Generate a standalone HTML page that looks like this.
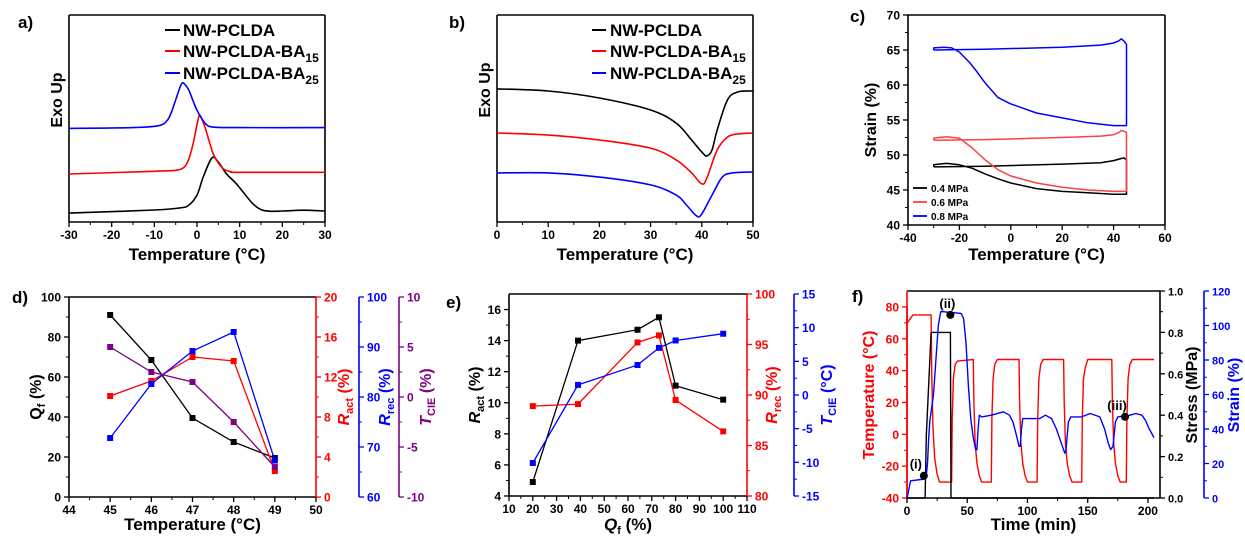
<!DOCTYPE html>
<html><head><meta charset="utf-8">
<style>
html,body{margin:0;padding:0;background:#fff;}
svg{display:block;font-family:"Liberation Sans",Arial,sans-serif;font-weight:bold;}
</style></head>
<body>
<svg id="fig" width="1245" height="536" viewBox="0 0 1245 536" xmlns="http://www.w3.org/2000/svg"></svg>
<script>
// ---------- DATA ----------
// Panel a (DSC cooling), arbitrary heat-flow units 0..100
const aX_black=[-30,-10,-4,-2,0,1.5,3.5,5,7,9,11,13,15,17,20,25,30];
const aY_black=[4.3,5.8,6.8,8,13,22,30.9,29,23,19,14,9,6,5.2,5.3,5.7,5.3];
const aX_red=[-30,-10,-5,-3,-2,-1,0,0.5,1,2,3,4,6,8,10,30];
const aY_red=[23.2,24.5,25,26.5,30,37,47,51.2,50.5,45,38,32,26,24.3,24,24];
const aX_blue=[-30,-15,-9,-7,-6,-5,-4,-3.5,-3,-2,-1,0,2,4,10,30];
const aY_blue=[45.2,45.6,46.5,49,53,59,65,67.1,66.8,64,59,54,47.5,45.8,45.6,45.6];
const aTicks=[-30,-20,-10,0,10,20,30];
// Panel b (DSC heating)
const bX_black=[0,10,20,30,35,38,40,41,42,43,45,47,50];
const bY_black=[64.3,63.3,59.9,54.1,47.8,39.6,33.8,31.9,34.8,44.4,58.9,62.8,63.3];
const bX_red=[0,10,20,30,35,38,40,41,43,45,47,50];
const bY_red=[43,42,39.6,35.7,30,23.7,18.4,21.3,34.8,41,42.5,43];
const bX_blue=[0,10,20,30,35,37,39,40,42,44,46,50];
const bY_blue=[23.7,23.7,21.7,17.9,13,8.2,2.9,3.9,13,21.7,23.7,24.2];
const bTicks=[0,10,20,30,40,50];
// Panel c (strain loops)
const cX_04=[-30,-10,20,35,40,43,44,45,45,40,30,20,10,0,-5,-10,-15,-20,-25,-28,-30,-30];
const cY_04=[48.3,48.4,48.7,48.9,49.2,49.5,49.6,49.3,44.4,44.4,44.6,44.8,45.2,46,46.6,47.3,48.1,48.6,48.8,48.7,48.6,48.3];
const cX_06=[-30,-10,20,35,40,42,43,44,45,45,40,30,20,10,0,-5,-10,-15,-20,-25,-28,-30,-30];
const cY_06=[52.1,52.2,52.5,52.7,52.9,53.2,53.5,53.4,53.2,44.8,44.8,45,45.4,46,47,47.9,49.3,51,52.4,52.6,52.5,52.4,52.1];
const cX_08=[-30,-10,20,35,40,42,43,44,45,45,40,30,20,10,0,-5,-10,-13,-16,-20,-23,-26,-30,-30];
const cY_08=[65,65.1,65.4,65.7,66,66.3,66.6,66.3,65.8,54.2,54.2,54.6,55.3,56,57.3,58.2,60.3,61.8,63.2,64.7,65.3,65.4,65.3,65];
const cXT=[-40,-20,0,20,40,60], cYT=[40,45,50,55,60,65,70];
// Panel d
const dTemp=[45,46,47,48,49];
const dQf=[91,68.5,39.5,27.5,19.5];
const dRact=[10.1,11.6,14,13.6,2.6];
const dRrec=[71.8,82.6,89.2,93,67.3];
const dTcie=[5,2.5,1.5,-2.5,-7];
// Panel e
const eQf=[20,39,64,73,80,100];
const eRact=[4.9,14,14.7,15.5,11.1,10.2];
const eRrec=[88.9,89.1,95.2,95.9,89.5,86.4];
const eTcie=[-10.1,1.5,4.45,7,8.1,9.1];
// Panel f
const fT_time=[0.5,2,5,20,20.5,21.5,23,25,27,37,37.5,38.5,40,42,55,55.5,56.5,58,60,62,70,70.5,71.5,73,75,93,93.5,94.5,96,98,100,108,108.5,109.5,111,113,130,130.5,131.5,133,135,137,145,145.5,146.5,148,150,170,170.5,171.5,173,175,177,182,182.5,183.5,185,187,205];
const fT_temp=[70,72,75,75,40,5,-15,-25,-30,-30,10,35,44,46,47,20,-5,-18,-26,-30,-30,10,35,44,47,47,20,-5,-18,-26,-30,-30,10,35,44,47,47,20,-5,-18,-26,-30,-30,10,35,42,47,47,20,-5,-18,-26,-30,-30,10,35,44,47,47];
const fS_time=[0,15,16,20,36,36.5,205];
const fS_stress=[0,0,0.3,0.8,0.8,0,0];
const fE_time=[0,1,3,15,16,17,18,19,20,21,22,24,26,28,30,45,47,49,51,53,55,57,58,59,60,62,70,80,85,88,91,93,94,95,96,110,115,120,124,128,131,132,134,136,145,152,160,164,167,169,171,173,175,185,190,195,198,201,205];
const fE_strain=[0,3,10,11,13,20,35,45,50,55,60,80,100,108,108,107,104,90,65,45,35,28,28,40,48,47,48,50,48,44,36,30,30,40,46,46,48,46,40,32,26,28,44,47,47,49,47,40,32,28,30,44,47,48,49,48,45,40,35];
const fMarkT=[14,36,181], fMarkV=[-26,75,11], fMarkL=["(i)","(ii)","(iii)"];

// ---------- HELPERS ----------
const NS="http://www.w3.org/2000/svg";
const svg=document.getElementById('fig');
function el(tag,attrs,parent,text){const e=document.createElementNS(NS,tag);for(const k in attrs)e.setAttribute(k,attrs[k]);if(text!==undefined)e.textContent=text;(parent||svg).appendChild(e);return e;}
function lin(d0,d1,p0,p1){return v=>p0+(v-d0)/(d1-d0)*(p1-p0);}
function smoothPath(xs,ys,sx,sy){
  const P=xs.map((x,i)=>[sx(x),sy(ys[i])]);
  let d='M'+P[0][0].toFixed(1)+','+P[0][1].toFixed(1);
  for(let i=0;i<P.length-1;i++){const p0=P[Math.max(0,i-1)],p1=P[i],p2=P[i+1],p3=P[Math.min(P.length-1,i+2)];
    const c1=[p1[0]+(p2[0]-p0[0])/6,p1[1]+(p2[1]-p0[1])/6],c2=[p2[0]-(p3[0]-p1[0])/6,p2[1]-(p3[1]-p1[1])/6];
    d+=`C${c1[0].toFixed(1)},${c1[1].toFixed(1)} ${c2[0].toFixed(1)},${c2[1].toFixed(1)} ${p2[0].toFixed(1)},${p2[1].toFixed(1)}`;}
  return d;}
function polyPath(xs,ys,sx,sy){return xs.map((x,i)=>(i?'L':'M')+sx(x).toFixed(1)+','+sy(ys[i]).toFixed(1)).join('');}
function xAxis(g,sx,y,ticks,minor,fs){
  ticks.forEach(t=>{el('line',{x1:sx(t),x2:sx(t),y1:y,y2:y+5,stroke:'#000','stroke-width':1.3},g);
    el('text',{x:sx(t),y:y+17,'text-anchor':'middle','font-size':fs||12},g,String(t));});
  if(minor) minor.forEach(t=>el('line',{x1:sx(t),x2:sx(t),y1:y,y2:y+3,stroke:'#000','stroke-width':1},g));
}
function yAxis(g,sy,x,ticks,minor,col,side,fs,fmt){
  const s=side==='left'?-1:1;
  el('line',{x1:x,x2:x,y1:sy(ticks[0]),y2:sy(ticks[ticks.length-1]),stroke:col,'stroke-width':1.6},g);
  ticks.forEach(t=>{el('line',{x1:x,x2:x+5*s,y1:sy(t),y2:sy(t),stroke:col,'stroke-width':1.3},g);
    el('text',{x:x+8*s,y:sy(t)+4.5,'text-anchor':side==='left'?'end':'start','font-size':fs||12,fill:col},g,fmt?fmt(t):String(t));});
  if(minor) minor.forEach(t=>el('line',{x1:x,x2:x+3*s,y1:sy(t),y2:sy(t),stroke:col,'stroke-width':1},g));
}
function mids(a){const r=[];for(let i=0;i<a.length-1;i++)r.push((a[i]+a[i+1])/2);return r;}
function frame(g,x0,x1,y0,y1,top){
  el('line',{x1:x0,x2:x1,y1:y1,y2:y1,stroke:'#000','stroke-width':1.6},g);
  if(top!==false) el('line',{x1:x0,x2:x1,y1:y0,y2:y0,stroke:'#000','stroke-width':1.6},g);
}
function markers(g,xs,ys,sx,sy,col){xs.forEach((x,i)=>{const m=el('rect',{x:sx(x)-3,y:sy(ys[i])-3,width:6,height:6,fill:col},g);
  });}
function vtext(g,x,y,col,parts,fs){
  const t=el('text',{x:0,y:0,transform:`translate(${x},${y}) rotate(-90)`,'text-anchor':'middle','font-size':fs,fill:col},g);
  parts.forEach(p=>{el('tspan',p.a||{},t,p.t);});return t;}
function group(name){const g=el('g',{});return g;}
function label(txt,x,y){const t=el('text',{x:x,y:y,'font-size':17},svg,txt);}

// ---------- PANEL A ----------
(function(){
  const g=group('panel-a-dsc-cooling');
  const x0=69,x1=325,y0=15,y1=222;
  const sx=lin(-30,30,x0,x1), sy=lin(0,100,y1,y0);
  frame(g,x0,x1,y0,y1);
  el('line',{x1:x0,x2:x0,y1:y0,y2:y1,stroke:'#000','stroke-width':1.6},g);
  el('line',{x1:x1,x2:x1,y1:y0,y2:y1,stroke:'#000','stroke-width':1.6},g);
  xAxis(g,sx,y1,aTicks,mids(aTicks),12);
  el('text',{x:(x0+x1)/2,y:260,'text-anchor':'middle','font-size':17},g,'Temperature (°C)');
  vtext(g,62,100,'#000',[{t:'Exo Up'}],16);
  [[aX_black,aY_black,'#000'],[aX_red,aY_red,'#f00'],[aX_blue,aY_blue,'#00f']].forEach(s=>{
    const p=el('path',{d:smoothPath(s[0],s[1],sx,sy),fill:'none',stroke:s[2],'stroke-width':1.6},g);
    });
  const lg=[['NW-PCLDA','','#000',30],['NW-PCLDA-BA','15','#f00',51],['NW-PCLDA-BA','25','#00f',73]];
  lg.forEach(l=>{el('line',{x1:165,x2:180,y1:l[3],y2:l[3],stroke:l[2],'stroke-width':2},g);
    const t=el('text',{x:183,y:l[3]+6,'font-size':17},g,l[0]);
    if(l[1]) el('tspan',{dy:5,'font-size':12},t,l[1]);});
})();
// ---------- PANEL B ----------
(function(){
  const g=group('panel-b-dsc-heating');
  const x0=497,x1=753,y0=15,y1=222;
  const sx=lin(0,50,x0,x1), sy=lin(0,100,y1,y0);
  frame(g,x0,x1,y0,y1);
  el('line',{x1:x0,x2:x0,y1:y0,y2:y1,stroke:'#000','stroke-width':1.6},g);
  el('line',{x1:x1,x2:x1,y1:y0,y2:y1,stroke:'#000','stroke-width':1.6},g);
  xAxis(g,sx,y1,bTicks,mids(bTicks),12);
  el('text',{x:(x0+x1)/2,y:260,'text-anchor':'middle','font-size':17},g,'Temperature (°C)');
  vtext(g,490,90,'#000',[{t:'Exo Up'}],16);
  [[bX_black,bY_black,'#000'],[bX_red,bY_red,'#f00'],[bX_blue,bY_blue,'#00f']].forEach(s=>{
    const p=el('path',{d:smoothPath(s[0],s[1],sx,sy),fill:'none',stroke:s[2],'stroke-width':1.6},g);
    });
  const lg=[['NW-PCLDA','','#000',30],['NW-PCLDA-BA','15','#f00',51],['NW-PCLDA-BA','25','#00f',73]];
  lg.forEach(l=>{el('line',{x1:592,x2:606,y1:l[3],y2:l[3],stroke:l[2],'stroke-width':2},g);
    const t=el('text',{x:610,y:l[3]+6,'font-size':17},g,l[0]);
    if(l[1]) el('tspan',{dy:5,'font-size':12},t,l[1]);});
})();
// ---------- PANEL C ----------
(function(){
  const g=group('panel-c-strain-loops');
  const x0=908,x1=1165,y0=15,y1=225;
  const sx=lin(-40,60,x0,x1), sy=lin(40,70,y1,y0);
  frame(g,x0,x1,y0,y1);
  el('line',{x1:x1,x2:x1,y1:y0,y2:y1,stroke:'#000','stroke-width':1.6},g);
  yAxis(g,sy,x0,cYT,mids(cYT),'#000','left',12);
  xAxis(g,sx,y1,cXT,mids(cXT),12);
  el('text',{x:(x0+x1)/2,y:260,'text-anchor':'middle','font-size':17},g,'Temperature (°C)');
  vtext(g,876,120,'#000',[{t:'Strain (%)'}],16);
  [[cX_04,cY_04,'#000'],[cX_06,cY_06,'#ff4040'],[cX_08,cY_08,'#0000ff']].forEach(s=>{
    const p=el('path',{d:polyPath(s[0],s[1],sx,sy),fill:'none',stroke:s[2],'stroke-width':1.5,'stroke-linejoin':'round'},g);
    });
  [['0.4 MPa','#000',188],['0.6 MPa','#ff4040',202],['0.8 MPa','#00f',216]].forEach(l=>{
    el('line',{x1:913,x2:927,y1:l[2],y2:l[2],stroke:l[1],'stroke-width':1.8},g);
    el('text',{x:931,y:l[2]+4,'font-size':10},g,l[0]);});
})();
// ---------- PANEL D ----------
(function(){
  const g=group('panel-d-temperature-effects');
  const x0=69,x1=316,y0=297,y1=497;
  const sx=lin(44,50,x0,x1);
  const sQ=lin(0,100,y1,y0), sR=lin(0,20,y1,y0), sB=lin(60,100,y1,y0), sP=lin(-10,10,y1,y0);
  frame(g,x0,x1,y0,y1);
  yAxis(g,sQ,x0,[0,20,40,60,80,100],[10,30,50,70,90],'#000','left',12);
  yAxis(g,sR,x1,[0,4,8,12,16,20],[2,6,10,14,18],'#f00','right',12);
  yAxis(g,sB,359,[60,70,80,90,100],[65,75,85,95],'#00f','right',12);
  yAxis(g,sP,399,[-10,-5,0,5,10],[-7.5,-2.5,2.5,7.5],'#800080','right',12);
  const xt=[44,45,46,47,48,49,50];
  xAxis(g,sx,y1,xt,mids(xt),12);
  el('text',{x:(x0+x1)/2,y:530,'text-anchor':'middle','font-size':17},g,'Temperature (°C)');
  vtext(g,41,397,'#000',[{t:'Q'},{t:'f',a:{'font-size':11,dy:4}},{t:' (%)',a:{dy:-4}}],16);
  vtext(g,349,397,'#f00',[{t:'R',a:{'font-style':'italic'}},{t:'act',a:{'font-size':11,dy:4}},{t:' (%)',a:{dy:-4}}],16);
  vtext(g,390,397,'#00f',[{t:'R',a:{'font-style':'italic'}},{t:'rec',a:{'font-size':11,dy:4}},{t:' (%)',a:{dy:-4}}],16);
  vtext(g,431,397,'#800080',[{t:'T',a:{'font-style':'italic'}},{t:'CIE',a:{'font-size':11,dy:4}},{t:' (%)',a:{dy:-4}}],16);
  [[dQf,sQ,'#000'],[dRact,sR,'#f00'],[dRrec,sB,'#00f'],[dTcie,sP,'#800080']].forEach(s=>{
    const p=el('path',{d:polyPath(dTemp,s[0],sx,s[1]),fill:'none',stroke:s[2],'stroke-width':1.3},g);
    
    markers(g,dTemp,s[0],sx,s[1],s[2]);});
})();
// ---------- PANEL E ----------
(function(){
  const g=group('panel-e-qf-effects');
  const x0=509,x1=747,y0=294,y1=496;
  const sx=lin(10,110,x0,x1);
  const sA=lin(4,17,y1,y0), sR=lin(80,100,y1,y0), sT=lin(-15,15,y1,y0);
  frame(g,x0,x1,y0,y1);
  yAxis(g,sA,x0,[4,6,8,10,12,14,16],[5,7,9,11,13,15],'#000','left',12);
  el('line',{x1:x0,x2:x0,y1:y0,y2:sA(16),stroke:'#000','stroke-width':1.6},g);
  yAxis(g,sR,x1,[80,85,90,95,100],[82.5,87.5,92.5,97.5],'#f00','right',12);
  yAxis(g,sT,794,[-15,-10,-5,0,5,10,15],[-12.5,-7.5,-2.5,2.5,7.5,12.5],'#00f','right',12);
  const xt=[10,20,30,40,50,60,70,80,90,100,110];
  xAxis(g,sx,y1,xt,mids(xt),12);
  const tt=el('text',{x:(x0+x1)/2,y:530,'text-anchor':'middle','font-size':17},g);
  el('tspan',{'font-style':'italic'},tt,'Q');el('tspan',{'font-size':11,dy:4},tt,'f');el('tspan',{dy:-4},tt,' (%)');
  vtext(g,480,395,'#000',[{t:'R',a:{'font-style':'italic'}},{t:'act',a:{'font-size':11,dy:4}},{t:' (%)',a:{dy:-4}}],16);
  vtext(g,777,395,'#f00',[{t:'R',a:{'font-style':'italic'}},{t:'rec',a:{'font-size':11,dy:4}},{t:' (%)',a:{dy:-4}}],16);
  vtext(g,832,395,'#00f',[{t:'T',a:{'font-style':'italic'}},{t:'CIE',a:{'font-size':11,dy:4}},{t:' (°C)',a:{dy:-4}}],16);
  [[eRact,sA,'#000'],[eRrec,sR,'#f00'],[eTcie,sT,'#00f']].forEach(s=>{
    const p=el('path',{d:polyPath(eQf,s[0],sx,s[1]),fill:'none',stroke:s[2],'stroke-width':1.3},g);
    
    markers(g,eQf,s[0],sx,s[1],s[2]);});
})();
// ---------- PANEL F ----------
(function(){
  const g=group('panel-f-shape-memory-cycles');
  const x0=907,x1=1160,y0=291,y1=498;
  const sx=lin(0,210,x0,x1);
  const sT=lin(-40,90,y1,y0), sS=lin(0,1,y1,y0), sE=lin(0,120,y1,y0);
  frame(g,x0,x1,y0,y1);
  el('line',{x1:x0,x2:x0,y1:y0,y2:y1,stroke:'#f00','stroke-width':1.6},g);
  yAxis(g,sT,x0,[-40,-20,0,20,40,60,80],[-30,-10,10,30,50,70],'#f00','left',12);
  yAxis(g,sS,x1,[0,0.2,0.4,0.6,0.8,1.0],[0.1,0.3,0.5,0.7,0.9],'#000','right',11,v=>v.toFixed(1));
  yAxis(g,sE,1204,[0,20,40,60,80,100,120],[10,30,50,70,90,110],'#00f','right',11);
  const xt=[0,50,100,150,200];
  xAxis(g,sx,y1,xt,[25,75,125,175],12);
  el('text',{x:(x0+x1)/2,y:530,'text-anchor':'middle','font-size':17},g,'Time (min)');
  vtext(g,874,395,'#f00',[{t:'Temperature (°C)'}],16);
  vtext(g,1197,395,'#000',[{t:'Stress (MPa)'}],16);
  vtext(g,1239,395,'#00f',[{t:'Strain (%)'}],16);
  const pT=el('path',{d:polyPath(fT_time,fT_temp,sx,sT),fill:'none',stroke:'#f00','stroke-width':1.4,'stroke-linejoin':'round'},g);
  
  const pS=el('path',{d:polyPath(fS_time,fS_stress,sx,sS),fill:'none',stroke:'#000','stroke-width':1.4},g);
  
  const pE=el('path',{d:polyPath(fE_time,fE_strain,sx,sE),fill:'none',stroke:'#00f','stroke-width':1.4,'stroke-linejoin':'round'},g);
  
  fMarkT.forEach((t,i)=>{const c=el('circle',{cx:sx(t),cy:sT(fMarkV[i]),r:4,fill:'#000'},g);
    
    el('text',{x:sx(t)-(i===1?3:8),y:sT(fMarkV[i])-7,'text-anchor':'middle','font-size':13},g,fMarkL[i]);});
})();
label('a)',18,28);label('b)',449,28);label('c)',850,22);
label('d)',12,303);label('e)',446,308);label('f)',852,302);
</script>
</body></html>
